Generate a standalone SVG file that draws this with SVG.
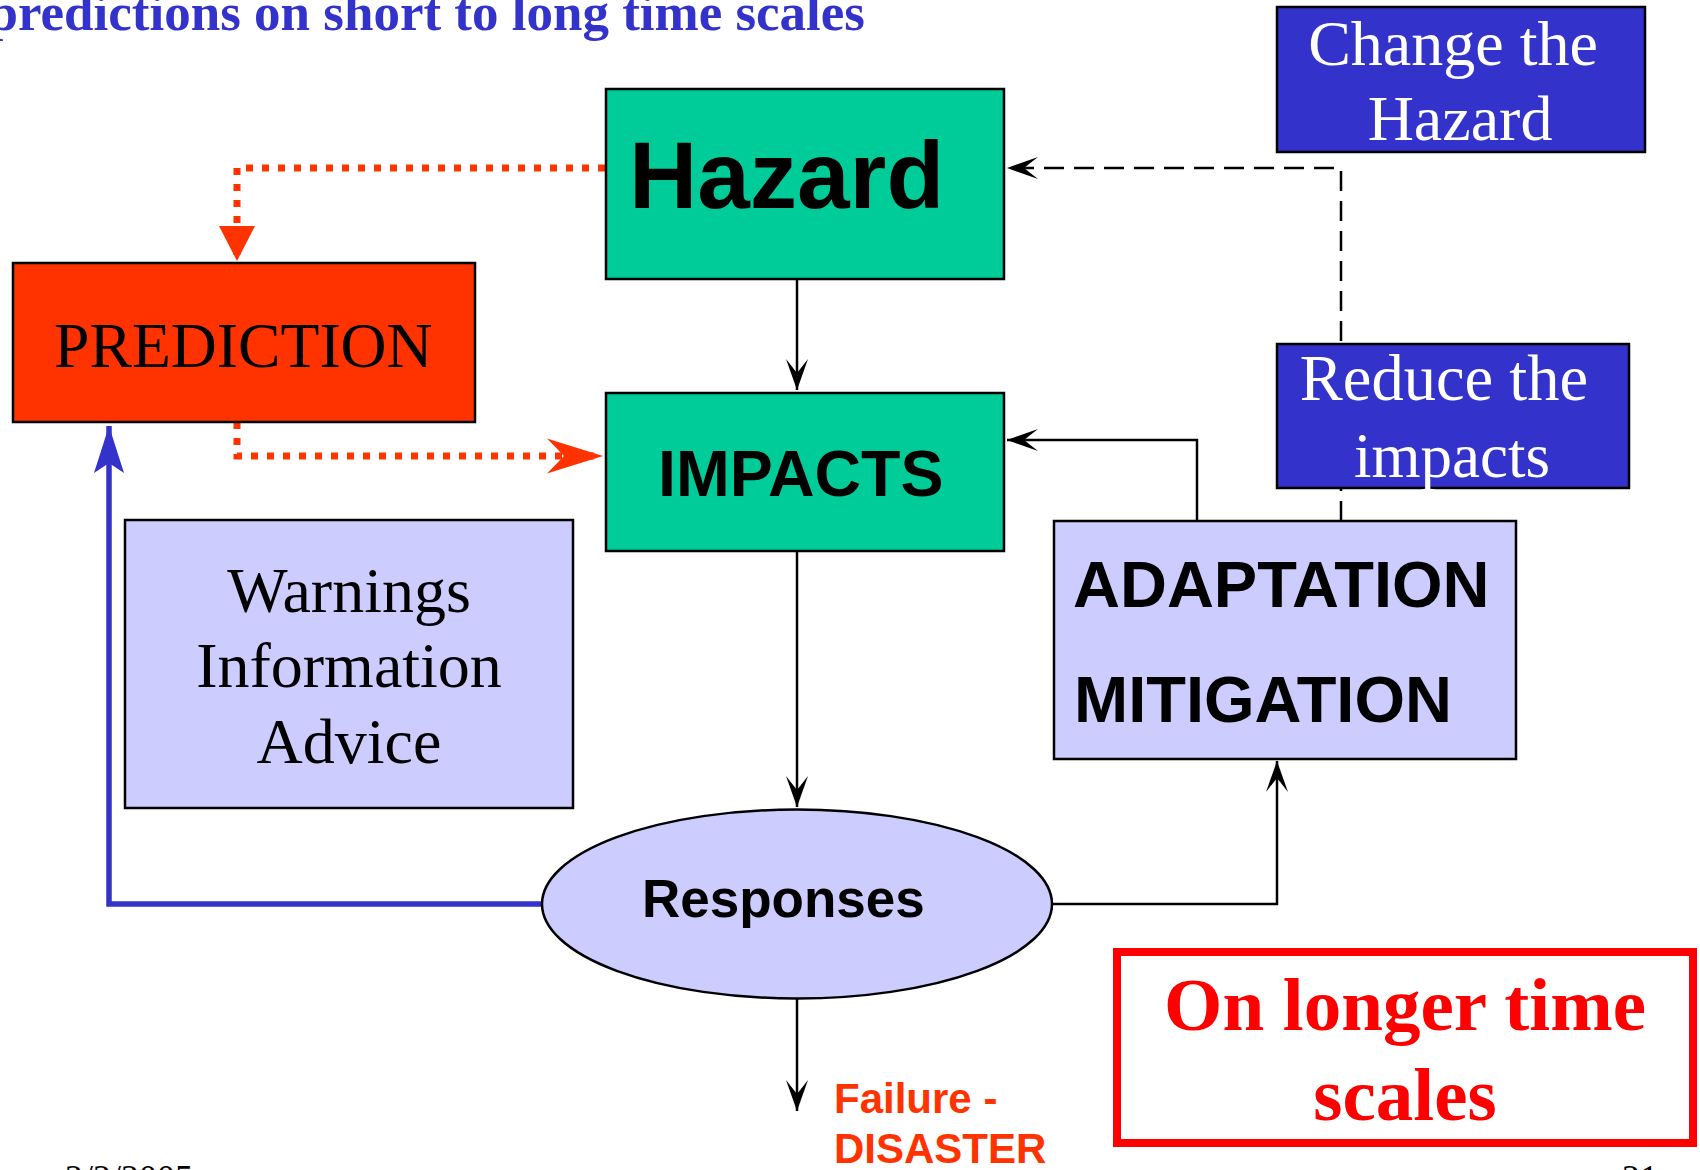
<svg xmlns="http://www.w3.org/2000/svg" width="1700" height="1170" viewBox="0 0 1700 1170">
<style>
.sans{font-family:"Liberation Sans",Arial,sans-serif;font-weight:bold}
.serif{font-family:"Liberation Serif","Times New Roman",serif}
.box{stroke:#000;stroke-width:2.5}
.green{fill:#00CC99}
.lav{fill:#CCCCFF}
.blue{fill:#3333CC}
.ln{fill:none;stroke:#000;stroke-width:2.5}
.dot{fill:none;stroke:#FF3300;stroke-width:7;stroke-dasharray:7 9}
</style>
<defs>
<marker id="ah" markerUnits="userSpaceOnUse" viewBox="-40 -20 45 40" refX="0" refY="0" markerWidth="45" markerHeight="40" orient="auto">
<path d="M0,0 L-31,-11 L-17,0 L-31,11 Z" fill="#000"/>
</marker>
<marker id="ahOr" markerUnits="userSpaceOnUse" viewBox="-60 -20 65 40" refX="0" refY="0" markerWidth="65" markerHeight="40" orient="auto">
<path d="M0,0 L-56,-17.5 L-39,0 L-56,17.5 Z" fill="#FF3300"/>
</marker>
<marker id="ahTri" markerUnits="userSpaceOnUse" viewBox="-40 -20 45 40" refX="0" refY="0" markerWidth="45" markerHeight="40" orient="auto">
<path d="M0,0 L-35,-18 L-35,18 Z" fill="#FF3300"/>
</marker>
<marker id="ahBl" markerUnits="userSpaceOnUse" viewBox="-50 -20 55 40" refX="0" refY="0" markerWidth="55" markerHeight="40" orient="auto">
<path d="M0,0 L-47,-15 L-37,0 L-47,15 Z" fill="#3333CC"/>
</marker>
</defs>
<rect width="1700" height="1170" fill="#fff"/>

<text class="serif" x="865" y="30" font-size="53" font-weight="bold" fill="#3333CC" text-anchor="end">predictions on short to long time scales</text>

<g id="connectors">
<path class="dot" d="M605,168 H237 V261" marker-end="url(#ahTri)"/>
<path class="dot" d="M237,422 V456 H603" marker-end="url(#ahOr)"/>
<path class="ln" d="M797,279 V390" marker-end="url(#ah)"/>
<path class="ln" d="M797,551 V807" marker-end="url(#ah)"/>
<path class="ln" d="M797,998 V1111" marker-end="url(#ah)"/>
<path class="ln" d="M1197,521 V440 H1007" marker-end="url(#ah)"/>
<path class="ln" d="M1341,521 V168 H1007" stroke-dasharray="20 10" marker-end="url(#ah)"/>
<path class="ln" d="M1000,904 H1277 V761" marker-end="url(#ah)"/>
<path d="M600,904 H109 V426" fill="none" stroke="#3333CC" stroke-width="5.5" marker-end="url(#ahBl)"/>
</g>

<g id="hazard">
<rect class="box green" x="606" y="89" width="398" height="190"/>
<text class="sans" x="629" y="208" font-size="94.5">Hazard</text>
</g>
<g id="impacts">
<rect class="box green" x="606" y="393" width="398" height="158"/>
<text class="sans" x="658" y="496" font-size="64.5">IMPACTS</text>
</g>
<g id="prediction">
<rect class="box" fill="#FF3300" x="13" y="263" width="462" height="159"/>
<text class="serif" x="54" y="367" font-size="63.7">PREDICTION</text>
</g>
<g id="warnings">
<rect class="box lav" x="125" y="520" width="448" height="288"/>
<text class="serif" font-size="64" text-anchor="middle"><tspan x="349" y="612">Warnings</tspan><tspan x="349" y="687">Information</tspan><tspan x="349" y="763">Advice</tspan></text>
</g>
<g id="change-hazard">
<rect class="box blue" x="1277" y="7" width="368" height="145"/>
<text class="serif" font-size="64" fill="#fff" text-anchor="middle"><tspan x="1453" y="65">Change the</tspan><tspan x="1460" y="140">Hazard</tspan></text>
</g>
<g id="reduce-impacts">
<rect class="box blue" x="1277" y="344" width="352" height="144"/>
<text class="serif" fill="#fff" text-anchor="middle"><tspan x="1444" y="400" font-size="64.5">Reduce the</tspan><tspan x="1452" y="477" font-size="63">impacts</tspan></text>
</g>
<g id="adaptation">
<rect class="box lav" x="1054" y="521" width="462" height="238"/>
<text class="sans" font-size="65"><tspan x="1073" y="607">ADAPTATION</tspan><tspan x="1074" y="722">MITIGATION</tspan></text>
</g>
<g id="responses">
<ellipse class="box lav" cx="797" cy="904" rx="255" ry="94.5"/>
<text class="sans" x="642" y="917" font-size="53">Responses</text>
</g>
<g id="failure">
<text class="sans" font-size="42" fill="#FF3300"><tspan x="834" y="1113">Failure -</tspan><tspan x="834" y="1163">DISASTER</tspan></text>
</g>
<g id="longer">
<rect x="1117" y="952" width="576" height="191" fill="none" stroke="#FF0000" stroke-width="8"/>
<text class="serif" font-size="75" font-weight="bold" fill="#FF0000" text-anchor="middle"><tspan x="1405" y="1030">On longer time</tspan><tspan x="1405" y="1120">scales</tspan></text>
</g>
<text class="serif" x="65" y="1190" font-size="36">2/2/2005</text>
<text class="serif" x="1622" y="1190" font-size="36">21</text>
</svg>
